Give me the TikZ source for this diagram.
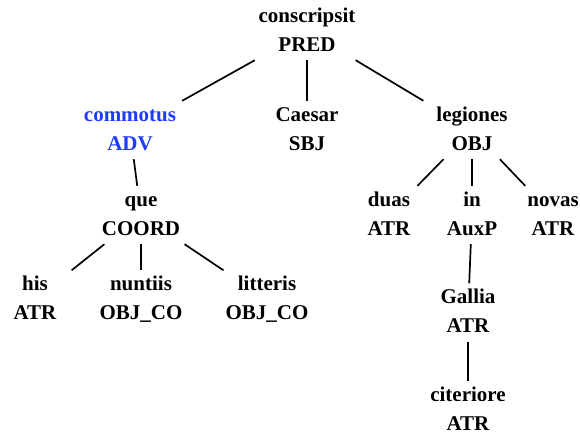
\documentclass[tikz,border=0pt]{standalone}
\usepackage{fontspec}
\setmainfont{Liberation Serif}
\usepackage{xcolor}
\definecolor{advblue}{RGB}{30,60,250}
\newcommand{\wl}[2]{\strut#1\\\strut#2}

\begin{document}
\begin{tikzpicture}[x=1pt, y=-1pt,
  word/.style={align=center, inner sep=0pt, minimum width=112pt,
    font=\fontsize{21}{29}\selectfont\bfseries},
  advword/.style={word, text=advblue},
  dep/.style={line width=1.7pt}
]
\useasboundingbox (0,0) rectangle (580,434);

\node[word] (cons) at (307,31) {\wl{conscripsit}{PRED}};

\node[advword] (comm) at (130,130) {\wl{commotus}{ADV}};
\node[word] (caes) at (307,130) {\wl{Caesar}{SBJ}};
\node[word] (legi) at (472,130) {\wl{legiones}{OBJ}};

\node[word] (que) at (141,215) {\wl{que}{COORD}};
\node[word] (duas) at (389,215) {\wl{duas}{ATR}};
\node[word] (in) at (472,215) {\wl{in}{AuxP}};
\node[word] (nova) at (553,215) {\wl{novas}{ATR}};

\node[word] (his) at (35,299.5) {\wl{his}{ATR}};
\node[word] (nunt) at (141,299.5) {\wl{nuntiis}{OBJ\_CO}};
\node[word] (litt) at (267,299.5) {\wl{litteris}{OBJ\_CO}};

\node[word] (gall) at (468,312.5) {\wl{Gallia}{ATR}};
\node[word] (cite) at (468,410.5) {\wl{citeriore}{ATR}};

\draw[dep] (cons) -- (comm);
\draw[dep] (cons) -- (caes);
\draw[dep] (cons) -- (legi);
\draw[dep] (comm) -- (que);
\draw[dep] (legi) -- (duas);
\draw[dep] (legi) -- (in);
\draw[dep] (legi) -- (nova);
\draw[dep] (que) -- (his);
\draw[dep] (que) -- (nunt);
\draw[dep] (que) -- (litt);
\draw[dep] (in) -- (gall);
\draw[dep] (gall) -- (cite);
\end{tikzpicture}
\end{document}
